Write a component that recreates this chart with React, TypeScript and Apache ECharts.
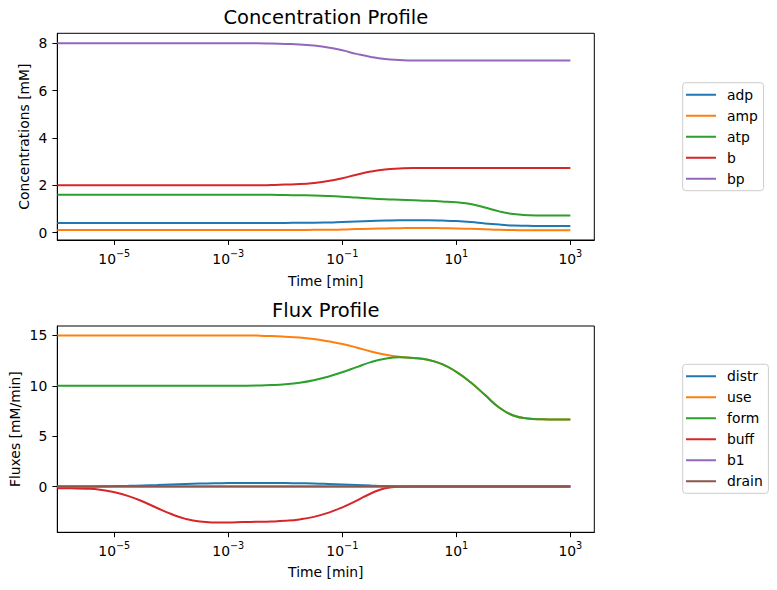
import React, { useEffect, useRef } from 'react';
import * as echarts from 'echarts';

const FONT = 'DejaVu Sans';
const COLORS = ['#1f77b4', '#ff7f0e', '#2ca02c', '#d62728', '#9467bd', '#8c564b'];

// time samples, as log10(t / min)
const timeExp = [
  -6, -5.75, -5.5, -5.25, -5, -4.75, -4.5, -4.25, -4, -3.75, -3.5, -3.25, -3, -2.75, -2.5, -2.25,
  -2, -1.75, -1.5, -1.25, -1, -0.75, -0.5, -0.25, 0, 0.25, 0.5, 0.75, 1, 1.25, 1.5, 1.75, 2, 2.25,
  2.5, 2.75, 3,
];
const xTickExp = [-5, -3, -1, 1, 3];

// concentrations [mM]
const adp = [
  0.41, 0.41, 0.41, 0.41, 0.41, 0.41, 0.41, 0.41, 0.41, 0.41, 0.41, 0.41, 0.41, 0.41, 0.41, 0.41,
  0.41, 0.42, 0.42, 0.43, 0.45, 0.47, 0.49, 0.51, 0.52, 0.52, 0.52, 0.51, 0.49, 0.45, 0.39, 0.34,
  0.3, 0.29, 0.28, 0.28, 0.28,
];
const amp = [
  0.11, 0.11, 0.11, 0.11, 0.11, 0.11, 0.11, 0.11, 0.11, 0.11, 0.11, 0.11, 0.11, 0.11, 0.11, 0.11,
  0.11, 0.11, 0.12, 0.12, 0.13, 0.15, 0.17, 0.18, 0.19, 0.2, 0.2, 0.19, 0.18, 0.16, 0.14, 0.12,
  0.11, 0.1, 0.1, 0.1, 0.1,
];
const atp = [
  1.6, 1.6, 1.6, 1.6, 1.6, 1.6, 1.6, 1.6, 1.6, 1.6, 1.6, 1.6, 1.6, 1.6, 1.6, 1.6,
  1.59, 1.58, 1.57, 1.55, 1.52, 1.48, 1.44, 1.41, 1.39, 1.37, 1.35, 1.32, 1.28, 1.21, 1.06, 0.9,
  0.79, 0.74, 0.72, 0.72, 0.72,
];
const b = [
  2.0, 2.0, 2.0, 2.0, 2.0, 2.0, 2.0, 2.0, 2.0, 2.0, 2.0, 2.0, 2.0, 2.0, 2.0, 2.01,
  2.03, 2.05, 2.1, 2.18, 2.3, 2.45, 2.58, 2.67, 2.71, 2.73, 2.73, 2.73, 2.73, 2.73, 2.73, 2.73,
  2.73, 2.73, 2.73, 2.73, 2.73,
];
const bp = [
  8.0, 8.0, 8.0, 8.0, 8.0, 8.0, 8.0, 8.0, 8.0, 8.0, 8.0, 8.0, 8.0, 8.0, 8.0, 7.99,
  7.97, 7.95, 7.9, 7.82, 7.7, 7.55, 7.42, 7.33, 7.29, 7.27, 7.27, 7.27, 7.27, 7.27, 7.27, 7.27,
  7.27, 7.27, 7.27, 7.27, 7.27,
];

// fluxes [mM/min]
const distr = [
  0, 0, 0.01, 0.03, 0.05, 0.08, 0.12, 0.16, 0.21, 0.26, 0.3, 0.33, 0.35, 0.36, 0.36, 0.36,
  0.35, 0.33, 0.31, 0.27, 0.22, 0.16, 0.1, 0.05, 0.02, 0.01, 0, 0, 0, 0, 0, 0,
  0, 0, 0, 0, 0,
];
const use = [
  15.0, 15.0, 15.0, 15.0, 15.0, 15.0, 15.0, 15.0, 15.0, 15.0, 15.0, 15.0, 15.0, 15.0, 14.98, 14.94,
  14.87, 14.78, 14.65, 14.42, 14.15, 13.8, 13.4, 13.1, 12.88, 12.76, 12.58, 12.15, 11.38, 10.35, 9.1, 7.85,
  7.05, 6.76, 6.68, 6.66, 6.66,
];
const form = [
  10.0, 10.0, 10.0, 10.0, 10.0, 10.0, 10.0, 10.0, 10.0, 10.0, 10.0, 10.0, 10.0, 10.01, 10.03, 10.07,
  10.15, 10.3, 10.55, 10.9, 11.35, 11.85, 12.35, 12.68, 12.82, 12.76, 12.58, 12.15, 11.38, 10.35, 9.1, 7.85,
  7.05, 6.76, 6.68, 6.66, 6.66,
];
const buff = [
  -0.16, -0.17, -0.2, -0.3, -0.55, -0.94, -1.48, -2.12, -2.72, -3.2, -3.47, -3.55, -3.56, -3.52, -3.49, -3.46,
  -3.39, -3.25, -3.0, -2.6, -2.05, -1.38, -0.68, -0.16, -0.01, 0, 0, 0, 0, 0, 0, 0,
  0, 0, 0, 0, 0,
];
const b1 = [
  0, 0, 0, 0, 0, 0, 0, 0, 0, 0, 0, 0, 0, 0, 0, 0,
  0, 0, 0, 0, 0, 0, 0, 0, 0, 0, 0, 0, 0, 0, 0, 0,
  0, 0, 0, 0, 0,
];
const drain = [
  0, 0, 0, 0, 0, 0, 0, 0, 0, 0, 0, 0, 0, 0, 0, 0,
  0, 0, 0, 0, 0, 0, 0, 0, 0, 0, 0, 0, 0, 0, 0, 0,
  0, 0, 0, 0, 0,
];

const concNames = ['adp', 'amp', 'atp', 'b', 'bp'];
const concData = [adp, amp, atp, b, bp];
const fluxNames = ['distr', 'use', 'form', 'buff', 'b1', 'drain'];
const fluxData = [distr, use, form, buff, b1, drain];

const concTicks = [0, 2, 4, 6, 8];
const fluxTicks = [0, 5, 10, 15];

const GRID_LEFT = 57.3;
const GRID_WIDTH = 537;

function xAxis(gridIndex: number, gap: number) {
  return {
    type: 'value',
    gridIndex,
    min: -6,
    max: 3.42,
    name: 'Time [min]',
    nameLocation: 'middle',
    nameGap: gap,
    nameTextStyle: { fontFamily: FONT, fontSize: 13.9, color: '#000' },
    axisLine: { show: true, onZero: false, lineStyle: { color: '#000', width: 1 } },
    axisTick: {
      show: true,
      length: 4.9,
      customValues: xTickExp,
      lineStyle: { color: '#000', width: 1 },
    },
    axisLabel: {
      customValues: xTickExp,
      margin: 8,
      color: '#000',
      formatter: (v: number) => `{b|10}{s|${v < 0 ? '\u2212' : ''}${Math.abs(v)}}`,
      rich: {
        b: { fontFamily: FONT, fontSize: 13.9, color: '#000', lineHeight: 18, verticalAlign: 'bottom' },
        s: { fontFamily: FONT, fontSize: 9.7, color: '#000', lineHeight: 11, verticalAlign: 'top' },
      },
    },
    splitLine: { show: false },
  };
}

function yAxis(gridIndex: number, min: number, max: number, ticks: number[], name: string, gap: number) {
  return {
    type: 'value',
    gridIndex,
    min,
    max,
    name,
    nameLocation: 'middle',
    nameGap: gap,
    nameRotate: 90,
    nameMoveOverlap: false,
    nameTextStyle: { fontFamily: FONT, fontSize: 13.9, color: '#000' },
    axisLine: { show: true, onZero: false, lineStyle: { color: '#000', width: 1 } },
    axisTick: { show: true, length: 4.9, customValues: ticks, lineStyle: { color: '#000', width: 1 } },
    axisLabel: {
      customValues: ticks,
      margin: 10,
      color: '#000',
      fontFamily: FONT,
      fontSize: 13.9,
      formatter: (v: number) => `${v}`,
    },
    splitLine: { show: false },
  };
}

function lineSeries(name: string, values: number[], color: string, idx: number) {
  return {
    type: 'line',
    name,
    xAxisIndex: idx,
    yAxisIndex: idx,
    data: timeExp.map((x, i) => [x, values[i]]),
    showSymbol: false,
    symbol: 'none',
    smooth: 0.5,
    color,
    lineStyle: { color, width: 2 },
    itemStyle: { color, borderWidth: 0 },
    emphasis: { disabled: true },
  };
}

const LEGEND_ICON = 'path://M0,0H30V2H0Z M36,0H36.01V0.01H36Z';

function legend(names: string[], top: number) {
  return {
    data: names,
    orient: 'vertical',
    left: 682.7,
    top,
    icon: LEGEND_ICON,
    itemWidth: 36,
    itemHeight: 2,
    itemGap: 7,
    padding: [5, 5.7, 5, 3.3],
    borderColor: '#cccccc',
    borderWidth: 1,
    borderRadius: 3,
    backgroundColor: 'rgba(255,255,255,0.8)',
    selectedMode: false,
    itemStyle: { borderWidth: 0 },
    textStyle: { fontFamily: FONT, fontSize: 13.9, color: '#000' },
  };
}

function buildOption() {
  const titleStyle = { fontFamily: FONT, fontSize: 19.5, fontWeight: 'normal', color: '#000' };
  return {
    animation: false,
    backgroundColor: '#fff',
    textStyle: { fontFamily: FONT },
    title: [
      {
        text: 'Concentration Profile',
        left: GRID_LEFT + GRID_WIDTH / 2,
        top: 7,
        textAlign: 'center',
        padding: 0,
        textStyle: titleStyle,
      },
      {
        text: 'Flux Profile',
        left: GRID_LEFT + GRID_WIDTH / 2,
        top: 300,
        textAlign: 'center',
        padding: 0,
        textStyle: titleStyle,
      },
    ],
    grid: [
      {
        left: GRID_LEFT, top: 33.3, width: GRID_WIDTH, height: 206.7,
        show: true, borderColor: '#000', borderWidth: 1, backgroundColor: 'transparent',
        containLabel: false, outerBoundsMode: 'none',
      },
      {
        left: GRID_LEFT, top: 326, width: GRID_WIDTH, height: 206.3,
        show: true, borderColor: '#000', borderWidth: 1, backgroundColor: 'transparent',
        containLabel: false, outerBoundsMode: 'none',
      },
    ],
    xAxis: [xAxis(0, 34), xAxis(1, 33)],
    yAxis: [
      yAxis(0, -0.31, 8.42, concTicks, 'Concentrations [mM]', 26),
      yAxis(1, -4.53, 15.93, fluxTicks, 'Fluxes [mM/min]', 35),
    ],
    legend: [legend(concNames, 82.7), legend(fluxNames, 364.3)],
    series: [
      ...concNames.map((n, i) => lineSeries(n, concData[i], COLORS[i], 0)),
      ...fluxNames.map((n, i) => lineSeries(n, fluxData[i], COLORS[i], 1)),
    ],
  };
}

export default function App() {
  const ref = useRef<HTMLDivElement>(null);
  useEffect(() => {
    if (!ref.current) return;
    const chart = echarts.init(ref.current, null, { renderer: 'svg' });
    chart.setOption(buildOption() as any);
    return () => chart.dispose();
  }, []);
  return (
    <div
      ref={ref}
      style={{ position: 'absolute', left: 0, top: 0, width: 777, height: 590, background: '#fff' }}
    />
  );
}
